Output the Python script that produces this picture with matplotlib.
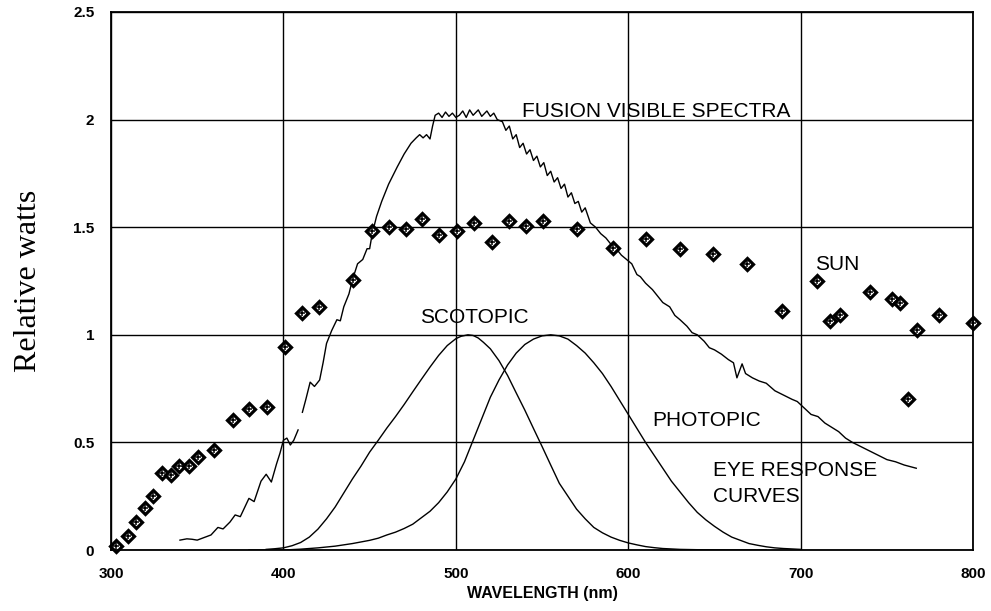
import numpy as np
import matplotlib.pyplot as plt

# sun data points (wavelength nm, relative watts)
sun_wl = [303, 310, 314.5, 320, 324.5, 329.5, 335, 339.5, 345, 350.5, 360, 371, 380, 390.5,
          401, 411, 420.5, 440.5, 451.5, 461, 471, 480.5, 490.5, 500.5, 510.5, 521, 531,
          540.5, 550.5, 570.5, 591, 610.5, 630, 649, 669, 689, 709.5, 717, 723, 740, 753,
          757.5, 762, 767.5, 780, 800]
sun_val = [0.02, 0.065, 0.13, 0.195, 0.25, 0.36, 0.35, 0.39, 0.39, 0.43, 0.465, 0.605, 0.655, 0.665,
           0.945, 1.10, 1.13, 1.255, 1.48, 1.50, 1.49, 1.54, 1.465, 1.48, 1.52, 1.43, 1.53,
           1.505, 1.53, 1.49, 1.405, 1.445, 1.40, 1.375, 1.33, 1.11, 1.25, 1.065, 1.09, 1.20, 1.165,
           1.15, 0.70, 1.022, 1.092, 1.055]

# fusion visible spectra (nan = gap in trace)
fus_wl = [340, 344, 347, 350, 353, 358, 362, 365, 369, 372, 375, 380, 383, 387, 390, 393, 396, 398,
          400, 402, 404, 406, 408.5, 409.5,
          411, 413, 415.5, 418, 421, 423, 425, 428, 431, 433, 435, 438, 440, 443, 446, 448.5, 450,
          451.5, 454, 457, 461, 466, 470, 474, 477, 479, 481, 483, 485, 486.5, 488, 490, 492, 494,
          496, 498, 500, 502, 504, 506, 508, 510, 513, 515, 518, 520, 522, 524, 527, 529, 531, 533,
          535, 537, 539, 541, 543, 545, 547, 549, 551, 553, 555, 557, 559, 561, 563, 565, 567, 569,
          571, 573, 575, 578, 581, 584, 587, 590, 593, 596, 599, 602, 605, 607, 610, 614, 617, 620,
          624, 627, 630, 634, 637, 640, 644, 647, 650, 654, 658, 661, 663, 666, 668, 672, 676, 680,
          685, 690, 695, 698, 702, 706, 710, 714, 718, 722, 726, 730, 735, 740, 745, 750, 755, 760, 767]
fus_val = [0.046, 0.052, 0.05, 0.046, 0.055, 0.07, 0.105, 0.098, 0.13, 0.163, 0.155, 0.24, 0.225,
           0.32, 0.352, 0.316, 0.40, 0.45, 0.51, 0.52, 0.488, 0.51, 0.558, np.nan,
           0.64, 0.70, 0.78, 0.76, 0.79, 0.87, 0.96, 1.02, 1.07, 1.065, 1.13, 1.19, 1.255, 1.33,
           1.35, 1.40, 1.40, 1.47, 1.55, 1.62, 1.70, 1.78, 1.84, 1.89, 1.915, 1.93, 1.915, 1.93,
           1.91, 1.97, 2.02, 2.03, 2.01, 2.035, 2.015, 2.03, 2.01, 2.02, 2.04, 2.01, 2.045, 2.02,
           2.045, 2.015, 2.04, 2.015, 2.03, 2.0, 1.99, 1.95, 1.97, 1.91, 1.93, 1.87, 1.89, 1.84,
           1.86, 1.81, 1.83, 1.78, 1.80, 1.74, 1.76, 1.71, 1.73, 1.68, 1.70, 1.64, 1.66, 1.61, 1.62,
           1.57, 1.59, 1.52, 1.50, 1.47, 1.45, 1.42, 1.40, 1.37, 1.35, 1.33, 1.28, 1.27, 1.24, 1.21,
           1.18, 1.15, 1.13, 1.09, 1.07, 1.04, 1.01, 1.00, 0.97, 0.94, 0.93, 0.91, 0.885, 0.87,
           0.80, 0.865, 0.82, 0.80, 0.785, 0.775, 0.74, 0.72, 0.70, 0.69, 0.66, 0.63, 0.62, 0.59,
           0.57, 0.55, 0.52, 0.50, 0.48, 0.46, 0.44, 0.42, 0.41, 0.395, 0.38]

# eye response curves
scot_wl = [390, 395, 400, 405, 410, 415, 420, 425, 430, 435, 440, 445, 450, 455, 460, 465, 470,
           475, 480, 485, 490, 495, 500, 503, 507, 510, 513, 516, 520, 525, 530, 535, 540, 545,
           550, 555, 560, 565, 570, 575, 580, 585, 590, 595, 600, 605, 610, 615, 620, 630, 640,
           650, 660, 680]
scot_val = [0.003, 0.006, 0.01, 0.02, 0.035, 0.06, 0.097, 0.145, 0.20, 0.265, 0.33, 0.39, 0.455,
            0.51, 0.567, 0.62, 0.676, 0.735, 0.793, 0.85, 0.904, 0.95, 0.982, 0.993, 1.0, 0.997,
            0.985, 0.965, 0.935, 0.88, 0.811, 0.73, 0.65, 0.565, 0.481, 0.395, 0.31, 0.25, 0.19,
            0.145, 0.105, 0.08, 0.06, 0.045, 0.033, 0.024, 0.016, 0.011, 0.007, 0.003, 0.0015,
            0.0008, 0.0, 0.0]
phot_wl = [380, 390, 400, 410, 420, 430, 440, 450, 455, 460, 465, 470, 475, 480, 485, 490, 495,
           500, 505, 510, 515, 520, 525, 530, 535, 540, 545, 550, 555, 560, 565, 570, 575, 580,
           585, 590, 595, 600, 605, 610, 615, 620, 625, 630, 635, 640, 645, 650, 655, 660, 665,
           670, 675, 680, 685, 690, 695, 700]
phot_val = [0.0, 0.0, 0.0, 0.004, 0.01, 0.018, 0.03, 0.045, 0.055, 0.07, 0.083, 0.10, 0.12, 0.15,
            0.18, 0.22, 0.27, 0.33, 0.41, 0.51, 0.61, 0.71, 0.79, 0.86, 0.915, 0.955, 0.98, 0.995,
            1.0, 0.995, 0.98, 0.95, 0.915, 0.87, 0.82, 0.76, 0.695, 0.63, 0.565, 0.50, 0.44, 0.38,
            0.32, 0.27, 0.22, 0.175, 0.14, 0.11, 0.083, 0.06, 0.045, 0.03, 0.022, 0.015, 0.01,
            0.007, 0.005, 0.003]

fig = plt.figure(figsize=(9.91, 6.11), dpi=100)
ax = fig.add_axes([0.112, 0.0998, 0.870, 0.8806])

ax.plot(fus_wl, fus_val, color='black', linewidth=1.0)
ax.plot(scot_wl, scot_val, color='black', linewidth=1.0)
ax.plot(phot_wl, phot_val, color='black', linewidth=1.0)
ax.plot(sun_wl, sun_val, linestyle='none', marker='D', markersize=6.5,
        markerfacecolor='white', markeredgecolor='black', markeredgewidth=2.3, clip_on=False)
ax.plot(sun_wl, sun_val, linestyle='none', marker='+', markersize=4.5,
        color='black', markeredgewidth=1.1, clip_on=False)

ax.set_xlim(300, 800)
ax.set_ylim(0, 2.5)
ax.set_xticks([300, 400, 500, 600, 700, 800])
ax.set_yticks([0, 0.5, 1, 1.5, 2, 2.5])
ax.set_xticklabels(['300', '400', '500', '600', '700', '800'])
ax.set_yticklabels(['0', '0.5', '1', '1.5', '2', '2.5'])
ax.tick_params(length=0, pad=12, labelsize=11)
for lab in ax.get_xticklabels() + ax.get_yticklabels():
    lab.set_fontweight('bold')
    lab.set_family('Liberation Sans')
ax.grid(True, color='black', linewidth=1.0)
for s in ax.spines.values():
    s.set_linewidth(1.3)

ax.set_xlabel('WAVELENGTH (nm)', fontsize=11.5, fontweight='bold', family='Liberation Sans', labelpad=4)
ax.set_ylabel('Relative watts', fontsize=23, family='Liberation Serif', labelpad=22)

tf = dict(fontsize=15, family='Liberation Sans')
ax.text(538.4, 2.01, 'FUSION VISIBLE SPECTRA', **tf)
ax.text(708.4, 1.30, 'SUN', **tf)
ax.text(479.2, 1.055, 'SCOTOPIC', **tf)
ax.text(613.8, 0.576, 'PHOTOPIC', **tf)
ax.text(649.2, 0.344, 'EYE RESPONSE', **tf)
ax.text(649.2, 0.223, 'CURVES', **tf)

plt.savefig('out.png', dpi=100)
